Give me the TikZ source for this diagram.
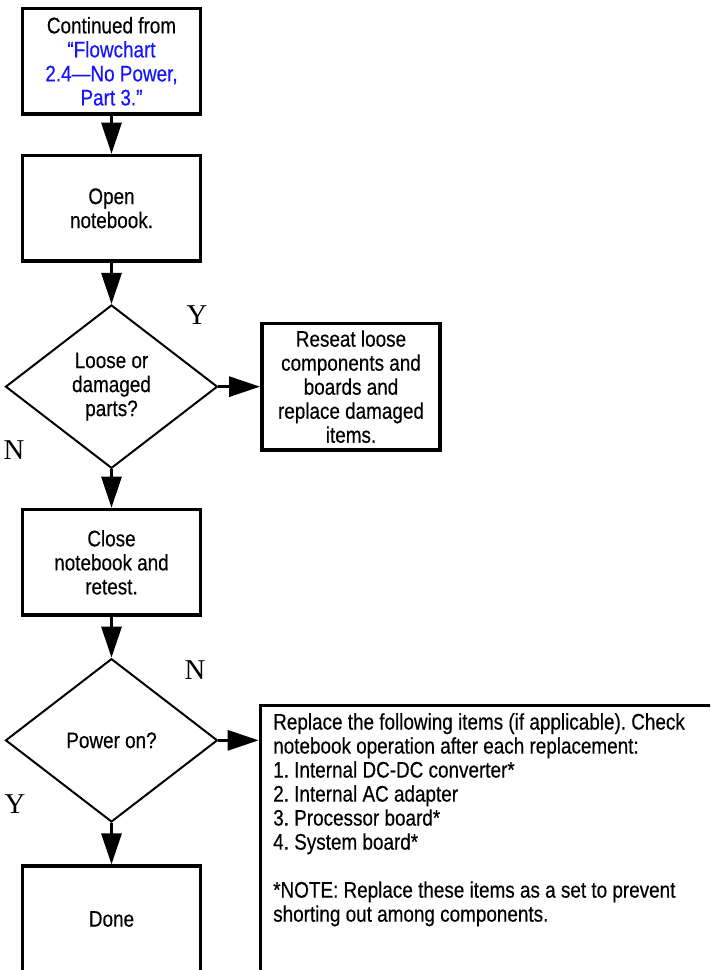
\documentclass[tikz,border=0pt]{standalone}
\usepackage{fontspec}
\usepackage{xcolor}
\usepackage{tikz}
\usetikzlibrary{shapes.geometric,arrows.meta}
\newfontfamily\chartfont[FakeStretch=0.84,FakeBold=0.4]{Liberation Sans}
\newfontfamily\answerfont{Liberation Serif}
\definecolor{linkblue}{RGB}{20,20,255}
\frenchspacing
\tikzset{
	chart text/.style={font=\chartfont\fontsize{19.2pt}{20.5pt}\selectfont},
	stepbox/.style={draw, line width=3pt, shape=rectangle, inner sep=0, minimum width=5.33cm, minimum height=3.17cm, align=center, chart text},
	query/.style={draw, line width=1.7pt, shape=diamond, inner sep=0, minimum width=6.36cm, minimum height=4.9cm, align=center, chart text},
	flow/.style={line width=2.5pt, -{Triangle[length=0.93cm, width=0.6cm]}},
	answer/.style={font=\answerfont\fontsize{24.5pt}{26pt}\selectfont}
}

\begin{document}
\begin{tikzpicture}
	\useasboundingbox (0, 0) rectangle (21.3, 29.1);
	\clip (0, 0) rectangle (21.3, 29.1);
	% Boxes, decisions and arrows:
	\node[stepbox] (cont) at (3.345, 27.26) {Continued from\\ \textcolor{linkblue}{“Flowchart}\\ \textcolor{linkblue}{2.4—No Power,}\\ \textcolor{linkblue}{Part 3.”}};
	\node[stepbox] (open) at (3.345, 22.85) {Open\\ notebook.};
	\node[query] (loose) at (3.345, 17.5) {Loose or\\ damaged\\ parts?};
	\node[stepbox, minimum width=5.35cm, minimum height=3.8cm] (reseat) at (10.53, 17.5) {Reseat loose\\ components and\\ boards and\\ replace damaged\\ items.};
	\node[stepbox] (close) at (3.345, 12.23) {Close\\ notebook and\\ retest.};
	\node[query] (poweron) at (3.345, 6.89) {Power on?};
	\node[stepbox] (done) at (3.345, 1.53) {Done};
	\node[draw, line width=3pt, shape=rectangle, inner sep=0, minimum width=15cm, minimum height=9cm, anchor=north west] (fixbox) at (7.76, 7.99) {};
	\node[chart text, inner sep=0, align=left, anchor=north west] (fixtext) at (8.19, 7.71) {Replace the following items (if applicable). Check\\ notebook operation after each replacement:\\ 1. Internal DC-DC converter*\\ 2. Internal AC adapter\\ 3. Processor board*\\ 4. System board*\\[20.5pt] *NOTE: Replace these items as a set to prevent\\ shorting out among components.};
	\draw[flow] (cont) -- (open);
	\draw[flow] (open) -- (loose);
	\draw[flow] (loose) -- (reseat);
	\draw[flow] (loose) -- (close);
	\draw[flow] (close) -- (poweron);
	\draw[flow] (poweron.east) -- (poweron.east -| fixbox.west);
	\draw[flow] (poweron) -- (done);
	\node[answer] (yes1) at (5.91, 19.65) {Y};
	\node[answer] (no1) at (0.42, 15.6) {N};
	\node[answer] (no2) at (5.85, 9.0) {N};
	\node[answer] (yes2) at (0.45, 4.98) {Y};
\end{tikzpicture}
\end{document}
